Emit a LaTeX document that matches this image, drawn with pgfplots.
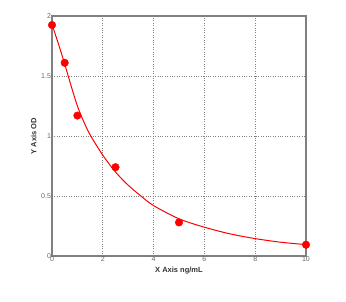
\documentclass[border=0pt]{standalone}
\usepackage{fontspec}
\setmainfont{Liberation Sans}
\usepackage{pgfplots}
\pgfplotsset{compat=1.18}
\begin{document}
\begin{tikzpicture}[x=1pt,y=1pt]
\path[use as bounding box] (-52,-45) rectangle (294,256);
\begin{axis}[
  at={(0,0)}, anchor=south west,
  scale only axis, width=254pt, height=240pt,
  xmin=0, xmax=10, ymin=0, ymax=2,
  xtick={0,2,4,6,8,10}, ytick={0,0.5,1,1.5,2},
  yticklabels={0,0.5,1,1.5,2},
  /pgf/number format/assume math mode=true,
  tick label style={font=\fontsize{7}{8}\selectfont, text=black!60},
  xticklabel style={yshift=2.5pt},
  yticklabel style={xshift=2.5pt},
  major tick length=0pt,
  axis line style={draw=black!50, line width=1.1pt},
  grid=major,
  major grid style={draw=black!50, dotted, line width=0.7pt},
  xlabel={X Axis ng/mL}, ylabel={Y Axis OD},
  label style={font=\fontsize{7.5}{8}\selectfont\bfseries, text=black!80},
  xlabel style={yshift=2pt},
  ylabel style={yshift=-2pt},
  clip=false,
]
\addplot[red, line width=1pt, smooth, tension=0.5] coordinates {
 (0,1.93) (0.25,1.77) (0.5,1.60) (0.75,1.42) (1,1.25) (1.25,1.12) (1.5,1.01)
 (2,0.84) (2.5,0.70) (3,0.59) (3.5,0.50) (4,0.42) (5,0.31) (6,0.24)
 (7,0.185) (8,0.145) (9,0.115) (10,0.095)
};
\addplot[only marks, mark=*, mark size=3.8pt, mark options={fill=red, draw=red}] coordinates {
 (0,1.925) (0.5,1.61) (1,1.17) (2.5,0.74) (5,0.28) (10,0.094)
};
\end{axis}
\end{tikzpicture}
\end{document}
